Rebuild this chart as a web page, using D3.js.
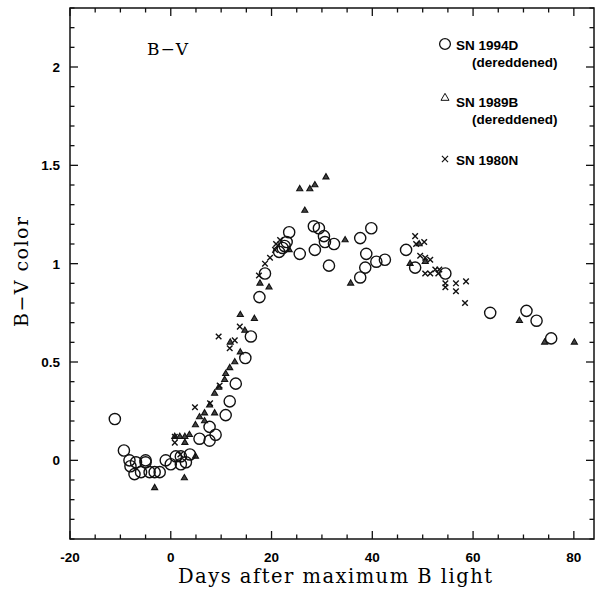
<!DOCTYPE html>
<html>
<head>
<meta charset="utf-8">
<script src="https://cdn.jsdelivr.net/npm/d3@7"></script>
<style>
  body { margin: 0; background: #fff; }
  svg { display: block; }
</style>
</head>
<body>
<script>
// SN 1994D (dereddened) - open circles
const sn1994D_days = [-11.1, -9.3, -8.2, -8.0, -7.2, -6.9, -5.9, -5.0, -5.0, -4.2, -3.2, -2.2, -1.0, 0.0, 1.0, 2.0, 2.0, 3.0, 3.8,
  5.7, 7.7, 7.7, 8.9, 10.9, 11.7, 12.9, 14.8, 15.9, 17.6, 18.7, 21.5, 22.2, 23.0, 23.5, 22.6, 25.6, 28.6, 28.4, 29.4, 30.4,
  30.6, 31.4, 32.4, 37.6, 39.8, 38.8, 40.8, 42.5, 38.6, 37.6, 46.7, 48.5, 54.5, 63.4, 70.6, 72.6, 75.5];
const sn1994D_bv = [0.21, 0.05, 0.00, -0.03, -0.07, -0.01, -0.06, 0.00, -0.01, -0.06, -0.06, -0.06, 0.00, -0.02, 0.02, 0.02, -0.02, -0.01, 0.03,
  0.11, 0.17, 0.10, 0.13, 0.23, 0.30, 0.39, 0.52, 0.63, 0.83, 0.95, 1.06, 1.08, 1.11, 1.16, 1.09, 1.05, 1.07, 1.19, 1.18, 1.14,
  1.11, 0.99, 1.10, 1.13, 1.18, 1.05, 1.01, 1.02, 0.98, 0.93, 1.07, 0.98, 0.95, 0.75, 0.76, 0.71, 0.62];

// SN 1989B (dereddened) - triangles
const sn1989B_days = [-3.2, 0.8, 1.8, 2.8, 3.7, 2.8, 2.7, 4.9, 4.9, 5.7, 6.7, 6.7, 7.7, 8.7, 8.7, 9.5, 10.7, 10.9, 11.7, 12.7,
  11.8, 13.8, 13.8, 14.7, 16.6, 17.7, 19.5, 23.5, 25.6, 26.6, 27.6, 28.6, 30.8, 34.6, 35.7, 47.5, 49.3, 50.5, 69.2, 74.2, 80.1];
const sn1989B_bv = [-0.14, 0.12, 0.12, 0.12, 0.13, 0.09, -0.09, 0.02, 0.18, 0.22, 0.20, 0.24, 0.28, 0.24, 0.34, 0.37, 0.41, 0.44, 0.47, 0.50,
  0.60, 0.55, 0.74, 0.66, 0.72, 0.90, 0.88, 1.07, 1.38, 1.27, 1.38, 1.40, 1.44, 1.12, 0.90, 1.00, 1.10, 1.01, 0.71, 0.60, 0.60];

// SN 1980N - crosses
const sn1980N_days = [0.8, 0.8, 1.9, 4.8, 7.8, 9.7, 9.5, 11.7, 12.7, 13.7, 17.5, 18.7, 19.7, 20.7, 20.9, 21.7,
  48.5, 48.7, 49.5, 50.3, 50.5, 51.5, 50.5, 51.5, 52.5, 53.3, 53.1, 54.5, 54.5, 56.6, 56.6, 58.6, 58.4];
const sn1980N_bv = [0.12, 0.09, 0.03, 0.27, 0.29, 0.38, 0.63, 0.57, 0.61, 0.68, 0.94, 1.00, 1.03, 1.07, 1.10, 1.12,
  1.14, 1.10, 1.04, 1.11, 1.03, 1.02, 0.95, 0.95, 0.97, 0.97, 0.95, 0.90, 0.88, 0.90, 0.86, 0.91, 0.80];

const xTicks = [-20, 0, 20, 40, 60, 80];
const yTicks = [0, 0.5, 1, 1.5, 2];
const legendNames = ["SN 1994D", "SN 1989B", "SN 1980N"];

const svgWidth = 595;
const svgHeight = 590;
const plotLeft = 70, plotRight = 594, plotTop = 8, plotBottom = 539;

const svg = d3.select("body").append("svg")
  .attr("width", svgWidth)
  .attr("height", svgHeight);

const xScale = d3.scaleLinear().domain([-20, 84]).range([plotLeft, plotRight]);
const yScale = d3.scaleLinear().domain([-0.4, 2.3]).range([plotBottom, plotTop]);

const sansFont = "'Liberation Sans', Arial, sans-serif";
const serifFont = "'DejaVu Serif', serif";

// frame
svg.append("rect")
  .attr("x", plotLeft).attr("y", plotTop)
  .attr("width", plotRight - plotLeft).attr("height", plotBottom - plotTop)
  .attr("fill", "none").attr("stroke", "#111").attr("stroke-width", 1.5);

// inward ticks on all four sides
const xMinor = d3.range(-20, 85, 5);
const yMinor = d3.range(-0.4, 2.31, 0.1).map(v => Math.round(v * 10) / 10);
const isMajorX = v => v % 20 === 0;
const isMajorY = v => Math.abs(v * 2 - Math.round(v * 2)) < 1e-6;

const ticks = svg.append("g").attr("stroke", "#111").attr("stroke-width", 1.3);
xMinor.forEach(v => {
  const len = isMajorX(v) ? 8 : 4.5;
  ticks.append("line").attr("x1", xScale(v)).attr("x2", xScale(v)).attr("y1", plotBottom).attr("y2", plotBottom - len);
  ticks.append("line").attr("x1", xScale(v)).attr("x2", xScale(v)).attr("y1", plotTop).attr("y2", plotTop + len);
});
yMinor.forEach(v => {
  const len = isMajorY(v) ? 8 : 4.5;
  ticks.append("line").attr("y1", yScale(v)).attr("y2", yScale(v)).attr("x1", plotLeft).attr("x2", plotLeft + len);
  ticks.append("line").attr("y1", yScale(v)).attr("y2", yScale(v)).attr("x1", plotRight).attr("x2", plotRight - len);
});

// tick labels
svg.append("g").selectAll("text").data(xTicks).join("text")
  .attr("x", d => xScale(d)).attr("y", 562)
  .attr("text-anchor", "middle")
  .style("font-family", sansFont).style("font-size", "13.5px").style("font-weight", "bold")
  .text(d => d);
svg.append("g").selectAll("text").data(yTicks).join("text")
  .attr("x", 60).attr("y", d => yScale(d)).attr("dy", "0.36em")
  .attr("text-anchor", "end")
  .style("font-family", sansFont).style("font-size", "13.5px").style("font-weight", "bold")
  .text(d => d);

// axis titles
svg.append("text")
  .attr("x", 335).attr("y", 583)
  .attr("text-anchor", "middle")
  .attr("textLength", 314).attr("lengthAdjust", "spacing")
  .style("font-family", serifFont).style("font-size", "19.5px")
  .text("Days after maximum B light");
svg.append("text")
  .attr("transform", "translate(28,272) rotate(-90)")
  .attr("text-anchor", "middle")
  .attr("textLength", 110).attr("lengthAdjust", "spacing")
  .style("font-family", serifFont).style("font-size", "19px")
  .text("B\u2212V color");
svg.append("text")
  .attr("x", 147).attr("y", 55)
  .attr("textLength", 41).attr("lengthAdjust", "spacing")
  .style("font-family", serifFont).style("font-size", "17px")
  .text("B\u2212V");

// markers
const triSym = d3.symbol().type(d3.symbolTriangle).size(16);
const xSym = d3.symbol().type(d3.symbolTimes || d3.symbolX).size(22);

const pts1994 = sn1994D_days.map((d, i) => [d, sn1994D_bv[i]]);
const pts1989 = sn1989B_days.map((d, i) => [d, sn1989B_bv[i]]);
const pts1980 = sn1980N_days.map((d, i) => [d, sn1980N_bv[i]]);

svg.append("g").selectAll("path").data(pts1989).join("path")
  .attr("d", triSym)
  .attr("transform", d => "translate(" + xScale(d[0]) + "," + yScale(d[1]) + ")")
  .attr("fill", "#444").attr("stroke", "#111").attr("stroke-width", 1.1);

svg.append("g").selectAll("path").data(pts1980).join("path")
  .attr("d", xSym)
  .attr("transform", d => "translate(" + xScale(d[0]) + "," + yScale(d[1]) + ")")
  .attr("fill", "none").attr("stroke", "#111").attr("stroke-width", 1.4);

svg.append("g").selectAll("circle").data(pts1994).join("circle")
  .attr("cx", d => xScale(d[0])).attr("cy", d => yScale(d[1]))
  .attr("r", 5.6)
  .attr("fill", "none").attr("stroke", "#111").attr("stroke-width", 1.4);

// legend
const lg = svg.append("g").style("font-family", sansFont).style("font-size", "13.5px").style("font-weight", "bold");
lg.append("circle").attr("cx", 445).attr("cy", 44).attr("r", 5.4)
  .attr("fill", "none").attr("stroke", "#111").attr("stroke-width", 1.3);
lg.append("path").attr("d", d3.symbol().type(d3.symbolTriangle).size(28))
  .attr("transform", "translate(445,98)")
  .attr("fill", "none").attr("stroke", "#111").attr("stroke-width", 1);
lg.append("path").attr("d", d3.symbol().type(d3.symbolTimes || d3.symbolX).size(26))
  .attr("transform", "translate(445,159)")
  .attr("fill", "none").attr("stroke", "#111").attr("stroke-width", 1.2);
lg.append("text").attr("x", 456).attr("y", 50).text(legendNames[0]);
lg.append("text").attr("x", 472).attr("y", 67).text("(dereddened)");
lg.append("text").attr("x", 456).attr("y", 107).text(legendNames[1]);
lg.append("text").attr("x", 472).attr("y", 124).text("(dereddened)");
lg.append("text").attr("x", 456).attr("y", 165).text(legendNames[2]);
</script>
</body>
</html>
